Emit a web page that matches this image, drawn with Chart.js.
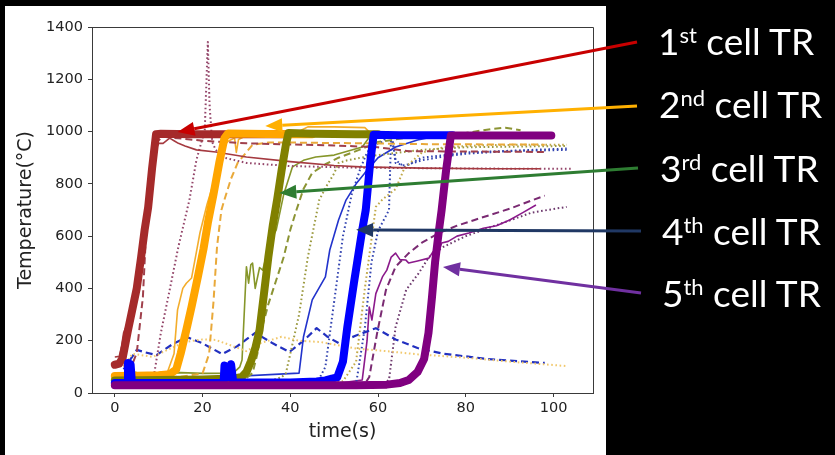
<!DOCTYPE html>
<html lang="en">
<head>
<meta charset="UTF-8">
<title>Cell thermal runaway temperatures</title>
<script src="https://cdn.jsdelivr.net/npm/chart.js"></script>
<style>
  body { margin: 0; background: #000; }
  #wrap { position: relative; width: 835px; height: 455px; }
  .tr { position: absolute; color: #fff; font-family: Lato, "Open Sans", sans-serif; font-size: 37px; line-height: 36px; white-space: nowrap; }
  .tr sup { font-size: 22px; vertical-align: 12px; line-height: 0; }
</style>
</head>
<body>
<div id="wrap">
  <canvas id="trChart"></canvas>
  <div class="tr" style="left:658px;top:23px">1<sup>st</sup> cell TR</div>
  <div class="tr" style="left:659px;top:86px">2<sup>nd</sup> cell TR</div>
  <div class="tr" style="left:660px;top:150px">3<sup>rd</sup> cell TR</div>
  <div class="tr" style="left:662px;top:213px">4<sup>th</sup> cell TR</div>
  <div class="tr" style="left:662px;top:275px">5<sup>th</sup> cell TR</div>
</div>
<script>
// time (s) / temperature (°C), one pair of arrays per thermocouple trace

// cell 1 - brown
const c1MainX = [0, 1, 1.8, 3, 4, 5, 6, 6.8, 7.6, 8.5, 9.4, 10.5, 18, 26, 40];
const c1MainY = [108, 112, 135, 240, 320, 400, 520, 624, 710, 860, 990, 992, 990, 990, 990];
const c1SolidX = [0, 1, 1.5, 2, 2.5, 3, 4, 5, 6, 7, 8, 9, 10, 11, 12.5, 13.5, 14.5, 16, 18.6, 23, 30, 40, 50, 56, 70, 85, 97];
const c1SolidY = [138, 140, 175, 230, 250, 220, 330, 450, 580, 700, 820, 920, 955, 955, 975, 965, 955, 945, 930, 922, 903, 885, 870, 865, 860, 858, 858];
const c1DashX = [2, 4, 5, 6.4, 7.5, 8.5, 9.5, 11, 20, 30, 50, 60, 67, 98];
const c1DashY = [105, 110, 153, 367, 738, 900, 960, 980, 965, 955, 947, 940, 925, 922];
const c1DotX = [8.5, 9, 10.5, 12.5, 14.5, 17, 18.6, 20.5, 21.2, 21.6, 22.2, 23, 25, 30, 40, 55, 70, 90, 104];
const c1DotY = [30, 76, 230, 394, 560, 738, 891, 1006, 1343, 1100, 960, 930, 900, 880, 868, 862, 860, 858, 858];

// cell 2 - orange
const c2MainX = [0, 5, 10, 12.5, 14, 15, 16.3, 17.5, 19, 20.2, 21.2, 22.5, 23.8, 25, 25.8, 30, 40, 45];
const c2MainY = [65, 66, 68, 72, 90, 150, 241, 330, 450, 550, 650, 760, 880, 975, 993, 992, 990, 990];
const c2SolidX = [0, 8, 12, 13.5, 14.3, 15.5, 16.3, 17.5, 18.5, 19.4, 21, 22.7, 24.5, 26, 27.3, 27.7, 28.2, 30, 40, 42.5, 44, 50, 57, 58.5, 65];
const c2SolidY = [70, 72, 80, 150, 318, 400, 420, 440, 530, 612, 720, 815, 941, 965, 975, 920, 970, 985, 988, 1005, 1018, 1018, 1015, 990, 988];
const c2DashX = [0, 15, 20, 21.5, 22.5, 23.3, 24.3, 25, 26.5, 28, 31.4, 35, 40, 57, 70, 98];
const c2DashY = [60, 62, 75, 150, 350, 560, 700, 740, 820, 880, 950, 958, 958, 955, 952, 950];
const c2DotX = [2, 4, 6, 8.7, 12, 16, 20, 23, 26, 30, 33, 38, 42, 47, 55, 62, 69, 80, 90, 103];
const c2DotY = [100, 150, 145, 138, 165, 195, 205, 203, 185, 160, 190, 215, 200, 195, 170, 160, 148, 135, 120, 103];

// cell 3 - olive
const c3MainX = [0, 10, 20, 27, 29, 30, 31, 32, 33, 34, 35, 36, 37, 38, 39, 39.6, 45, 55, 60];
const c3MainY = [48, 50, 52, 55, 62, 80, 120, 170, 241, 380, 520, 640, 740, 850, 950, 995, 992, 990, 990];
const c3SolidX = [0, 2, 3, 4, 5, 8, 15, 20, 27, 28.5, 29, 30, 30.5, 31, 31.4, 32, 33, 33.7, 34.5, 35.2, 36.8, 38.5, 40.5, 43, 45.8, 50, 56.4, 58.5];
const c3SolidY = [55, 60, 95, 80, 78, 76, 78, 75, 76, 100, 126, 483, 420, 490, 497, 400, 480, 470, 520, 573, 624, 760, 865, 890, 903, 910, 941, 990];
const c3DashX = [0, 25, 30, 31.4, 32.5, 33.6, 35, 36.8, 38.5, 40, 41.4, 43, 45, 48, 51, 55.7, 60, 70, 80, 86, 89, 92.5];
const c3DashY = [55, 55, 58, 76, 150, 252, 340, 432, 520, 624, 700, 780, 842, 875, 900, 930, 960, 985, 995, 1010, 1015, 1005];
const c3DotX = [0, 36, 38, 39, 40, 42, 44, 46.6, 48.2, 50, 51, 53, 56, 60, 70, 80, 103];
const c3DotY = [50, 50, 60, 76, 150, 300, 520, 738, 790, 840, 880, 890, 900, 910, 930, 940, 945];
const c3Dot2X = [0, 52, 55, 57, 59.5, 61, 62.5, 64, 66, 70, 75, 84, 95, 103];
const c3Dot2Y = [45, 45, 120, 400, 712, 740, 760, 780, 860, 920, 940, 948, 950, 950];

// cell 4 - blue
const c4MainX = [0, 2.8, 3, 3.6, 3.9, 20, 24.8, 25, 25.8, 26.5, 27, 40, 46, 48, 49.5, 50.7, 52, 53, 54.5, 56.4, 57.2, 58.2, 59, 65, 77];
const c4MainY = [38, 38, 115, 110, 38, 38, 38, 105, 60, 110, 40, 40, 44, 48, 55, 60, 120, 252, 420, 624, 700, 880, 988, 986, 986];
const c4SolidX = [0, 42, 43, 45, 48, 49, 51, 52.7, 55, 57, 60, 64, 69, 74];
const c4SolidY = [40, 76, 214, 356, 444, 547, 662, 738, 800, 842, 900, 941, 968, 985];
const c4DashX = [2, 2.7, 5, 7, 9.5, 13, 16.4, 20, 24.5, 28, 32, 36, 39.8, 43, 46, 48.5, 51, 55, 59.5, 64, 69, 75, 85, 98];
const c4DashY = [90, 107, 165, 155, 145, 185, 214, 190, 149, 180, 230, 190, 157, 200, 248, 215, 191, 220, 248, 205, 172, 150, 130, 115];
const c4DotX = [0, 46, 48, 50, 52, 54, 56, 57.5, 59, 61, 63, 64, 66, 70, 75, 80, 90, 103];
const c4DotY = [35, 35, 100, 350, 600, 760, 860, 920, 950, 960, 1000, 880, 870, 890, 905, 915, 925, 930];
const c4Dot2X = [0, 55, 57, 58.5, 60, 62.5, 63, 64, 66, 70, 80, 103];
const c4Dot2Y = [35, 35, 250, 500, 620, 700, 1000, 891, 865, 900, 920, 935];

// cell 5 - purple
const c5MainX = [0, 20, 40, 55, 62, 65, 67, 69, 70.5, 71.5, 72.3, 73, 73.9, 74.5, 75.5, 76.6, 85, 99.5];
const c5MainY = [30, 30, 30, 30, 32, 38, 50, 80, 130, 230, 367, 500, 624, 700, 850, 985, 985, 985];
const c5SolidX = [0, 50, 56.4, 57.5, 58, 58.6, 59.5, 61, 62, 63, 64, 65, 66.3, 67, 69, 71.6, 72.5, 73.5, 74.5, 76, 78, 80.7, 84, 87, 90, 93, 96];
const c5SolidY = [35, 35, 50, 200, 329, 279, 380, 444, 470, 520, 535, 510, 509, 497, 505, 516, 540, 520, 574, 580, 600, 612, 630, 640, 662, 690, 719];
const c5DashX = [0, 57, 58, 59.8, 61.8, 64, 67, 70, 73.9, 78, 82, 90, 98];
const c5DashY = [35, 35, 61, 230, 394, 483, 535, 575, 612, 640, 662, 705, 755];
const c5DotX = [0, 61, 62.5, 64, 66.4, 69.3, 71.6, 75, 80, 85, 90, 95, 103];
const c5DotY = [35, 35, 50, 252, 394, 459, 520, 560, 600, 630, 660, 690, 712];

// axis ticks
const xTicks = [0, 20, 40, 60, 80, 100];
const yTicks = [0, 200, 400, 600, 800, 1000, 1200, 1400];

// arrows: tip in data units, tail near the labels on the right (pixels)
const arrowTipX = [14.3, 34.3, 37.5, 55, 74.8];
const arrowTipY = [998, 1021, 765, 624, 482];
const arrowTailPx = [[637, 42], [637, 106], [638, 168], [641, 231], [641, 293]];
const arrowColors = ['#C80000', '#FFB000', '#2E7D32', '#203864', '#7030A0'];

const DASH = [7, 4];
const DOT = [1.6, 2.6];

function trace(xs, ys, color, width, dash, order) {
    return {
        data: xs.map((x, i) => ({ x: x, y: ys[i] })),
        borderColor: color,
        borderWidth: width,
        borderDash: dash,
        borderJoinStyle: 'round',
        borderCapStyle: width > 4 ? 'round' : 'butt',
        pointRadius: 0,
        fill: false,
        order: order
    };
}

const datasets = [
    // thin traces underneath
    trace(c1SolidX, c1SolidY, '#a53a40', 1.6, [], 10),
    trace(c1DashX, c1DashY, '#a0404c', 2, DASH, 10),
    trace(c1DotX, c1DotY, '#94466a', 2, DOT, 10),
    trace(c2SolidX, c2SolidY, '#f3ad2c', 1.6, [], 10),
    trace(c2DashX, c2DashY, '#e9a93a', 2, DASH, 10),
    trace(c2DotX, c2DotY, '#f1c86c', 2, DOT, 10),
    trace(c3SolidX, c3SolidY, '#86962a', 1.6, [], 10),
    trace(c3DashX, c3DashY, '#8c9434', 2, DASH, 10),
    trace(c3DotX, c3DotY, '#9c9a40', 2, DOT, 10),
    trace(c3Dot2X, c3Dot2Y, '#c0a848', 2, DOT, 10),
    trace(c4SolidX, c4SolidY, '#2233cc', 1.6, [], 10),
    trace(c4DashX, c4DashY, '#2230c0', 2.2, DASH, 10),
    trace(c4DotX, c4DotY, '#3344b0', 2, DOT, 10),
    trace(c4Dot2X, c4Dot2Y, '#3344b0', 2, DOT, 10),
    trace(c5SolidX, c5SolidY, '#8b1a8b', 1.6, [], 10),
    trace(c5DashX, c5DashY, '#7a2a72', 2, DASH, 10),
    trace(c5DotX, c5DotY, '#6e3a6e', 2, DOT, 10),
    // main traces on top
    trace(c1MainX, c1MainY, '#a52a2a', 8, [], 4),
    trace(c2MainX, c2MainY, '#ffa500', 8, [], 3),
    trace(c3MainX, c3MainY, '#808000', 8, [], 2),
    trace(c4MainX, c4MainY, '#0000ff', 8, [], 1),
    trace(c5MainX, c5MainY, '#800080', 8, [], 0)
];

const framePlugin = {
    id: 'frame',
    beforeDraw(chart) {
        const ctx = chart.ctx;
        ctx.save();
        ctx.fillStyle = '#000';
        ctx.fillRect(0, 0, chart.width, chart.height);
        ctx.fillStyle = '#fff';
        ctx.fillRect(5, 6, 601, chart.height - 6);
        ctx.restore();
    },
    afterDatasetsDraw(chart) {
        // top and right spines
        const { ctx, chartArea: a } = chart;
        ctx.save();
        ctx.strokeStyle = '#3a3a3a';
        ctx.lineWidth = 1;
        ctx.beginPath();
        ctx.moveTo(a.left, a.top + 0.5);
        ctx.lineTo(a.right + 0.5, a.top + 0.5);
        ctx.lineTo(a.right + 0.5, a.bottom);
        ctx.stroke();
        ctx.restore();
    },
    afterDraw(chart) {
        const ctx = chart.ctx;
        const sx = chart.scales.x, sy = chart.scales.y;
        ctx.save();
        arrowTipX.forEach((tx, i) => {
            const x1 = sx.getPixelForValue(tx), y1 = sy.getPixelForValue(arrowTipY[i]);
            const [x0, y0] = arrowTailPx[i];
            const ang = Math.atan2(y1 - y0, x1 - x0);
            const headLen = 17, headW = 7;
            const bx = x1 - headLen * Math.cos(ang), by = y1 - headLen * Math.sin(ang);
            ctx.strokeStyle = arrowColors[i];
            ctx.fillStyle = arrowColors[i];
            ctx.lineWidth = 3;
            ctx.beginPath();
            ctx.moveTo(x0, y0);
            ctx.lineTo(bx, by);
            ctx.stroke();
            ctx.beginPath();
            ctx.moveTo(x1, y1);
            ctx.lineTo(bx + headW * Math.sin(ang), by - headW * Math.cos(ang));
            ctx.lineTo(bx - headW * Math.sin(ang), by + headW * Math.cos(ang));
            ctx.closePath();
            ctx.fill();
        });
        ctx.restore();
    }
};

new Chart(document.getElementById('trChart'), {
    type: 'line',
    data: { datasets: datasets },
    options: {
        responsive: true,
        maintainAspectRatio: false,
        animation: false,
        layout: { padding: { left: 5, right: 242, top: 27, bottom: 10 } },
        plugins: { legend: { display: false }, tooltip: { enabled: false } },
        scales: {
            x: {
                type: 'linear',
                min: -5.2,
                max: 109,
                afterFit: s => { s.height = 52; },
                afterBuildTicks: s => { s.ticks = xTicks.map(v => ({ value: v })); },
                grid: { drawOnChartArea: false, drawTicks: true, tickLength: 4, color: '#3a3a3a' },
                border: { color: '#3a3a3a' },
                ticks: { color: '#222', padding: 3, maxRotation: 0, callback: v => String(v), font: { family: 'DejaVu Sans', size: 14.5 } },
                title: { display: true, text: 'time(s)', color: '#222', padding: { top: 0, bottom: 2 }, font: { family: 'DejaVu Sans', size: 19 } }
            },
            y: {
                min: 0,
                max: 1400,
                afterFit: s => { s.width = 87; },
                afterBuildTicks: s => { s.ticks = yTicks.map(v => ({ value: v })); },
                grid: { drawOnChartArea: false, drawTicks: true, tickLength: 4, color: '#3a3a3a' },
                border: { color: '#3a3a3a' },
                ticks: { color: '#222', padding: 5, callback: v => String(v), font: { family: 'DejaVu Sans', size: 14.5 } },
                title: { display: true, text: 'Temperature(°C)', color: '#222', padding: { top: 10, bottom: 0 }, font: { family: 'DejaVu Sans', size: 19 } }
            }
        }
    },
    plugins: [framePlugin]
});
</script>
</body>
</html>
